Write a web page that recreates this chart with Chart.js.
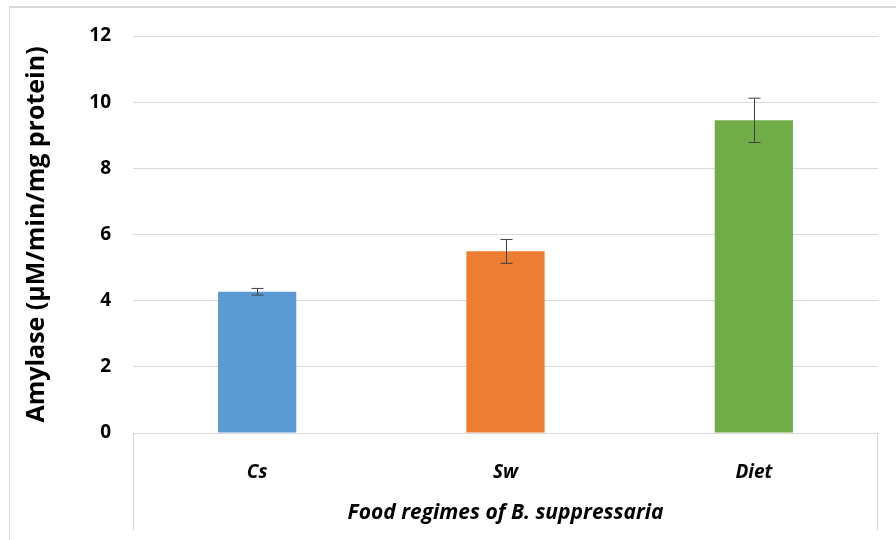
<!DOCTYPE html>
<html><head><meta charset="utf-8">
<script src="https://cdn.jsdelivr.net/npm/chart.js@4/dist/chart.umd.min.js"></script>
<style>
html,body{margin:0;padding:0;background:#fff;}
#wrap{position:relative;width:896px;height:540px;overflow:hidden;}
#frame{position:absolute;left:9px;top:6px;width:900px;height:600px;border:1px solid #d9d9d9;border-top-width:2px;box-sizing:border-box;}
canvas{position:absolute;left:0;top:0;}
</style></head>
<body><div id="wrap"><div id="frame"></div><canvas id="c" width="896" height="540"></canvas></div>
<script>
const categories = ["Cs", "Sw", "Diet"];
const values = [4.27, 5.49, 9.45];
const errors = [0.1, 0.36, 0.67];
const barColors = ["#5B9BD5", "#ED7D31", "#70AD47"];
const yTicks = [0, 2, 4, 6, 8, 10, 12];
const yTitle = "Amylase (µM/min/mg protein)";
const xTitle = "Food regimes of B. suppressaria";

const errorBars = {
  id: 'errorBars',
  afterDatasetsDraw(chart) {
    const ctx = chart.ctx, y = chart.scales.y;
    const meta = chart.getDatasetMeta(0);
    ctx.save();
    ctx.strokeStyle = '#404040'; ctx.lineWidth = 1;
    meta.data.forEach((bar, i) => {
      const x = Math.round(bar.x) + 0.5;
      const t = y.getPixelForValue(values[i] + errors[i]);
      const b = y.getPixelForValue(values[i] - errors[i]);
      ctx.beginPath();
      ctx.moveTo(x, t); ctx.lineTo(x, b);
      ctx.moveTo(x - 6, t); ctx.lineTo(x + 6, t);
      ctx.moveTo(x - 6, b); ctx.lineTo(x + 6, b);
      ctx.stroke();
    });
    ctx.restore();
  }
};
const axisBox = {
  id: 'axisBox',
  afterDraw(chart) {
    const ctx = chart.ctx, a = chart.chartArea, xs = chart.scales.x;
    ctx.save();
    ctx.strokeStyle = '#d9d9d9'; ctx.lineWidth = 1;
    ctx.beginPath();
    ctx.moveTo(Math.round(a.left) + 0.5, a.bottom); ctx.lineTo(Math.round(a.left) + 0.5, xs.bottom);
    ctx.moveTo(Math.round(a.right) - 0.5, a.bottom); ctx.lineTo(Math.round(a.right) - 0.5, xs.bottom);
    ctx.stroke();
    ctx.restore();
  }
};

const F = "'Open Sans', 'DejaVu Sans', sans-serif";
new Chart(document.getElementById('c'), {
  type: 'bar',
  data: {
    labels: categories,
    datasets: [{ data: values, backgroundColor: barColors, categoryPercentage: 1, barPercentage: 0.315 }]
  },
  options: {
    responsive: false, animation: false, devicePixelRatio: 1,
    layout: { padding: { left: 22, right: 18, top: 36, bottom: 10 } },
    plugins: { legend: { display: false }, tooltip: { enabled: false } },
    scales: {
      y: {
        min: 0, max: 12,
        afterBuildTicks(s) { s.ticks = yTicks.map(v => ({ value: v })); },
        afterFit(s) { s.width = 111; },
        grid: { color: '#d9d9d9', drawTicks: false },
        border: { display: false },
        ticks: { color: '#000', padding: 22, font: { family: F, size: 19, weight: 'bold' } },
        title: { display: true, text: yTitle, color: '#000', padding: 0, font: { family: F, size: 25, weight: 'bold' } }
      },
      x: {
        afterFit(s) { s.height = 97; },
        grid: { display: false },
        border: { display: true, color: '#d9d9d9' },
        ticks: { color: '#000', padding: 20, font: { family: F, size: 19, weight: 'bold', style: 'italic' } },
        title: { display: true, text: xTitle, color: '#000', padding: { top: 10 }, font: { family: F, size: 21, weight: 'bold', style: 'italic' } }
      }
    }
  },
  plugins: [errorBars, axisBox]
});
</script></body></html>
